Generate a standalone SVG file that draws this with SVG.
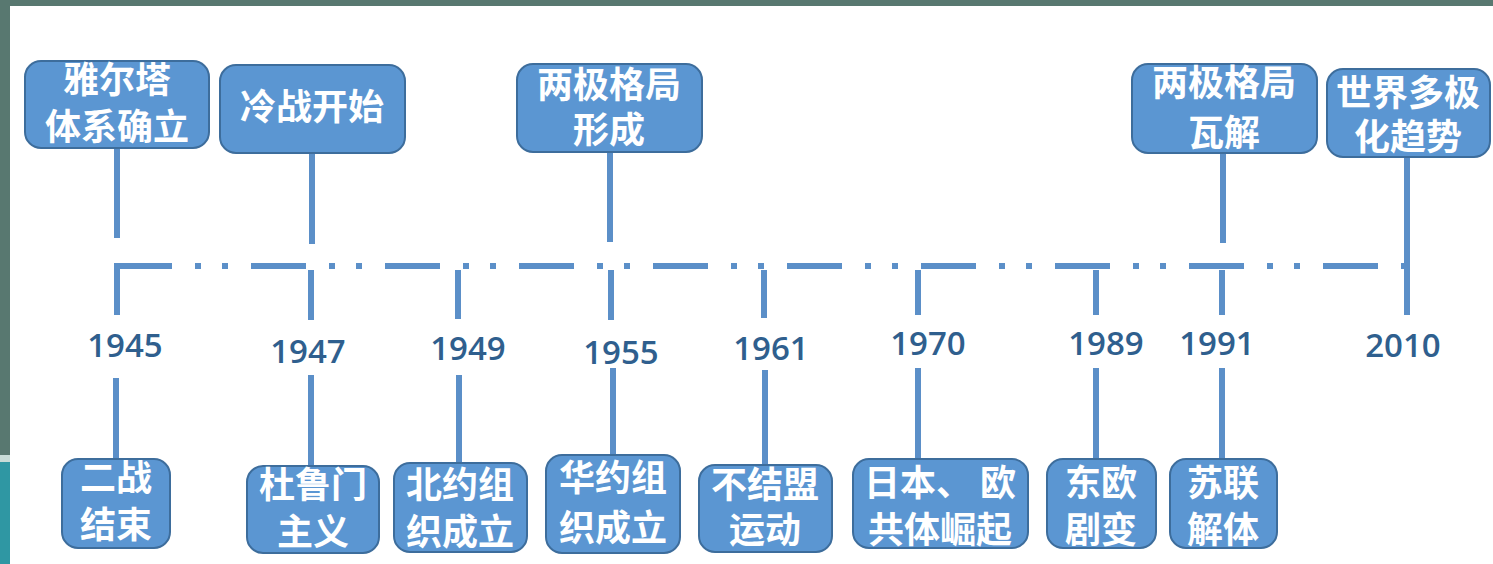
<svg xmlns="http://www.w3.org/2000/svg" width="1493" height="564" viewBox="0 0 1493 564">
<style>
.box{fill:#5b96d2;stroke:#3d6d9c;stroke-width:2}
.lbl{font-family:"Noto Sans CJK SC","Noto Sans CJK JP",sans-serif;font-weight:bold;font-size:36px;fill:#ffffff;text-anchor:middle}
.yr{font-family:"Open Sans","Liberation Sans",sans-serif;font-weight:600;font-size:33px;fill:#2f5f8e;text-anchor:middle}
.ln{stroke:#5b8fc8;stroke-width:6;fill:none}
.tl{stroke:#5b8fc8;stroke-width:6;fill:none;stroke-dasharray:55 23 6 21 6 23}
</style>
<rect x="0" y="0" width="1493" height="564" fill="#ffffff"/>
<rect x="0" y="0" width="1493" height="6" fill="#587870"/>
<rect x="0" y="0" width="10" height="455" fill="#587870"/>
<rect x="0" y="455" width="10" height="7" fill="#c8dcd8"/>
<rect x="0" y="462" width="10" height="102" fill="#2f97a3"/>
<g id="connectors">
<path class="tl" d="M117 266 H1407"/>
<path class="ln" d="M117 148 V238 M312 153 V244 M610 152 V242 M1223 153 V243 M1407 157 V315"/>
<path class="ln" d="M117 263 V315 M311 270 V320 M458 270 V319 M611 270 V320 M764 270 V318 M918 270 V315 M1096 270 V315 M1222 270 V315"/>
<path class="ln" d="M116 378 V459 M311 375 V466 M459 375 V463 M613 368 V455 M765 370 V465 M918 368 V459 M1096 368 V459 M1222 368 V459"/>
</g>
<g id="top1"><rect class="box" x="25" y="61" width="184" height="87" rx="16"/><text class="lbl" x="117" y="93">雅尔塔</text><text class="lbl" x="117" y="140">体系确立</text></g>
<g id="top2"><rect class="box" x="220" y="65" width="185" height="88" rx="16"/><text class="lbl" x="312" y="120">冷战开始</text></g>
<g id="top3"><rect class="box" x="517" y="64" width="185" height="88" rx="16"/><text class="lbl" x="609" y="98">两极格局</text><text class="lbl" x="609" y="143">形成</text></g>
<g id="top4"><rect class="box" x="1132" y="64" width="185" height="89" rx="16"/><text class="lbl" x="1224" y="96">两极格局</text><text class="lbl" x="1224" y="146">瓦解</text></g>
<g id="top5"><rect class="box" x="1327" y="69" width="163" height="88" rx="16"/><text class="lbl" x="1408" y="106">世界多极</text><text class="lbl" x="1408" y="150">化趋势</text></g>
<g id="years">
<text class="yr" x="125" y="357">1945</text>
<text class="yr" x="308" y="363">1947</text>
<text class="yr" x="468" y="360">1949</text>
<text class="yr" x="621" y="364">1955</text>
<text class="yr" x="771" y="360">1961</text>
<text class="yr" x="928" y="355">1970</text>
<text class="yr" x="1106" y="355">1989</text>
<text class="yr" x="1217" y="355">1991</text>
<text class="yr" x="1403" y="357">2010</text>
</g>
<g id="b1"><rect class="box" x="62" y="459" width="108" height="89" rx="16"/><text class="lbl" x="116" y="491">二战</text><text class="lbl" x="116" y="538">结束</text></g>
<g id="b2"><rect class="box" x="247" y="466" width="132" height="87" rx="16"/><text class="lbl" x="313" y="498">杜鲁门</text><text class="lbl" x="313" y="545">主义</text></g>
<g id="b3"><rect class="box" x="394" y="463" width="133" height="89" rx="16"/><text class="lbl" x="460" y="498">北约组</text><text class="lbl" x="460" y="545">织成立</text></g>
<g id="b4"><rect class="box" x="546" y="455" width="134" height="98" rx="16"/><text class="lbl" x="613" y="491">华约组</text><text class="lbl" x="613" y="541">织成立</text></g>
<g id="b5"><rect class="box" x="699" y="465" width="133" height="87" rx="16"/><text class="lbl" x="765" y="498">不结盟</text><text class="lbl" x="765" y="543">运动</text></g>
<g id="b6"><rect class="box" x="853" y="459" width="175" height="89" rx="16"/><text class="lbl" x="940" y="496" xml:space="preserve">日本、 欧</text><text class="lbl" x="940" y="543">共体崛起</text></g>
<g id="b7"><rect class="box" x="1047" y="459" width="109" height="89" rx="16"/><text class="lbl" x="1101" y="496">东欧</text><text class="lbl" x="1101" y="543">剧变</text></g>
<g id="b8"><rect class="box" x="1170" y="459" width="107" height="89" rx="16"/><text class="lbl" x="1223" y="496">苏联</text><text class="lbl" x="1223" y="543">解体</text></g>
</svg>
